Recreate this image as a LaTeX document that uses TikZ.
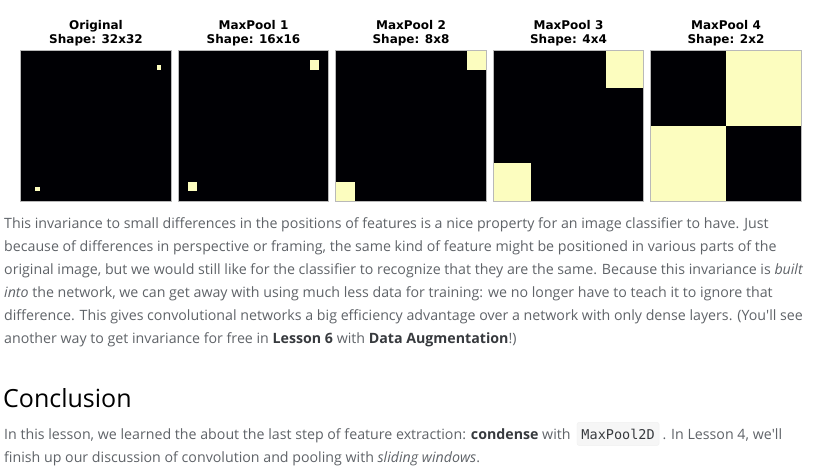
\documentclass[tikz,border=0pt]{standalone}
\usepackage{fontspec}
\setmainfont{Open Sans}
\newfontfamily\titlefont{DejaVu Sans}
\newfontfamily\codefont{DejaVu Sans Mono}
\definecolor{PoolBlack}{HTML}{000004}
\definecolor{PoolYellow}{HTML}{FCFDBF}
\definecolor{BodyGray}{RGB}{95, 99, 104}
\definecolor{BoldGray}{RGB}{55, 58, 62}
\definecolor{CodeBg}{HTML}{F6F6F6}
\usetikzlibrary{positioning, calc}

\begin{document}
\begin{tikzpicture}[
            x=1pt, y=-1pt,
            panel/.style={rectangle, minimum size=150pt, inner sep=0pt, fill=PoolBlack},
            frame/.style={draw=gray!55, line width=0.8pt},
            title/.style={align=center, inner sep=0pt, font=\titlefont\bfseries\fontsize{12}{14}\selectfont},
            body/.style={anchor=base west, inner sep=0pt, text=BodyGray, font=\fontsize{14.2}{17}\selectfont},
            heading/.style={anchor=base west, inner sep=0pt, font=\fontsize{25}{30}\selectfont},
            code/.style={rectangle, rounded corners=2pt, fill=CodeBg, draw=black!6, inner xsep=4.5pt,
                        minimum height=23pt, text=BoldGray, font=\codefont\fontsize{13.5}{16}\selectfont}
        ]
            \useasboundingbox (0,0) rectangle (823,467);

            % Pooled feature maps
            \foreach \i/\n/\a/\b/\name in {0/32/3/29/Original, 1/16/1/14/MaxPool 1,
                    2/8/0/7/MaxPool 2, 3/4/0/3/MaxPool 3, 4/2/0/1/MaxPool 4} {
                \pgfmathsetmacro\s{150/\n}
                \node[panel] (panel\i) at (96+157.5*\i, 126) {};
                \fill[PoolYellow] ($(panel\i.north west)+(\b*\s, \a*\s)$) rectangle ++(\s, \s);
                \fill[PoolYellow] ($(panel\i.north west)+(\a*\s, \b*\s)$) rectangle ++(\s, \s);
                \draw[frame] (panel\i.north west) rectangle (panel\i.south east);
                \node[title, above=4.5pt of panel\i] (title\i) {\name\\Shape: \n x\n};
            }

            % Paragraph
            \node[body] (par1) at (4, 228) {This invariance to small differences in the positions of features is a nice property for an image classifier to have. Just};
            \node[body] (par2) at (4, 251) {because of differences in perspective or framing, the same kind of feature might be positioned in various parts of the};
            \node[body] (par3) at (4, 274) {original image, but we would still like for the classifier to recognize that they are the same. Because this invariance is \emph{built}};
            \node[body] (par4) at (4, 297) {\emph{into} the network, we can get away with using much less data for training: we no longer have to teach it to ignore that};
            \node[body] (par5) at (4, 320) {difference. This gives convolutional networks a big efficiency advantage over a network with only dense layers. (You\textquotesingle ll see};
            \node[body] (par6) at (4, 343) {another way to get invariance for free in \textcolor{BoldGray}{\bfseries Lesson 6} with \textcolor{BoldGray}{\bfseries Data Augmentation}!)};

            % Conclusion
            \node[heading] (concl) at (3, 407) {Conclusion};
            \node[body] (sum1) at (4, 439) {In this lesson, we learned the about the last step of feature extraction: \textcolor{BoldGray}{\bfseries condense} with};
            \node[code, anchor=base west] (pool) at ([xshift=6pt]sum1.base east) {MaxPool2D};
            \node[body] (sum2) at ([xshift=3pt]pool.base east) {. In Lesson 4, we\textquotesingle ll};
            \node[body] (sum3) at (4, 462) {finish up our discussion of convolution and pooling with \emph{sliding windows}.};
        \end{tikzpicture}
\end{document}
